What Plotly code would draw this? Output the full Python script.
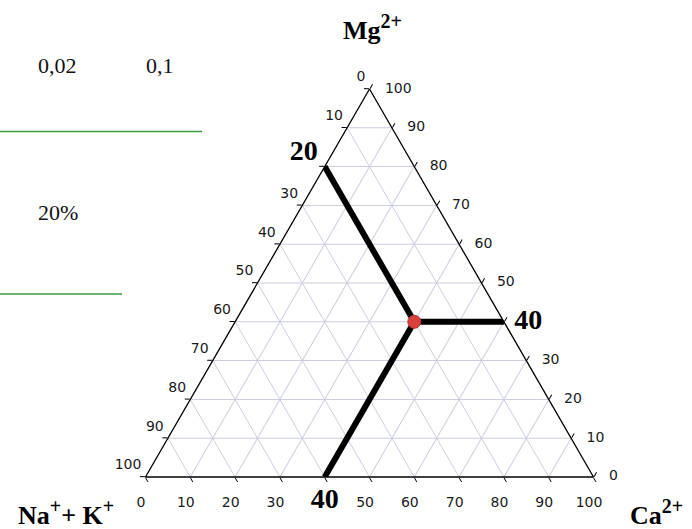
import plotly.graph_objects as go

# ---- data ----
tick_values = [0, 10, 20, 30, 40, 50, 60, 70, 80, 90, 100]

# sample composition (percent)
sample_mg = [40]
sample_na_k = [20]
sample_ca = [40]

# guide-line end points on the triangle edges
guide_mg = [80, 40, 0]
guide_na_k = [20, 0, 60]
guide_ca = [0, 60, 40]
guide_labels = ["20", "40", "40"]

# clipped table text from the scanned page
table_texts = ["0,02", "0,1", "20%"]

W, H = 692, 529
NBSP = "\u00a0"


def px(x, y):
    return x / W, 1 - y / H


fig = go.Figure()

tick_font = dict(family="DejaVu Sans", size=14, color="#1a1a1a")

# left edge labels: Na+ + K+ (top vertex = 0, bottom-left = 100)
left_v = [v for v in tick_values if v != sample_na_k[0]]
fig.add_trace(go.Scatterternary(
    a=[100 - v for v in left_v], b=left_v, c=[0] * len(left_v),
    mode="markers+text", text=[str(v) for v in left_v],
    textposition="top left", marker=dict(size=5, opacity=0),
    textfont=tick_font, cliponaxis=False, hoverinfo="skip", showlegend=False))

# bottom edge labels: Ca2+ (bottom-left = 0, bottom-right = 100)
bottom_v = [v for v in tick_values if v != sample_ca[0]]
fig.add_trace(go.Scatterternary(
    a=[0] * len(bottom_v), b=[100 - v for v in bottom_v], c=bottom_v,
    mode="markers+text", text=[str(v) + NBSP * 2 for v in bottom_v],
    textposition="bottom center", marker=dict(size=29, opacity=0),
    textfont=tick_font, cliponaxis=False, hoverinfo="skip", showlegend=False))

# right edge labels: Mg2+ (bottom-right = 0, top = 100)
right_v = [v for v in tick_values if v != sample_mg[0]]
fig.add_trace(go.Scatterternary(
    a=right_v, b=[0] * len(right_v), c=[100 - v for v in right_v],
    mode="markers+text", text=[str(v) for v in right_v],
    textposition="middle right", marker=dict(size=23, opacity=0),
    textfont=tick_font, cliponaxis=False, hoverinfo="skip", showlegend=False))

# guide lines from the sample point to the edges
for m, n, c in zip(guide_mg, guide_na_k, guide_ca):
    fig.add_trace(go.Scatterternary(
        a=[sample_mg[0], m], b=[sample_na_k[0], n], c=[sample_ca[0], c],
        mode="lines", line=dict(color="black", width=6),
        cliponaxis=False, hoverinfo="skip", showlegend=False))

# bold labels at the guide-line ends
fig.add_trace(go.Scatterternary(
    a=guide_mg, b=guide_na_k, c=guide_ca,
    mode="markers+text",
    text=["<b>" + guide_labels[0] + "</b>" + NBSP,
          "<b>" + guide_labels[1] + "</b>",
          "<b>" + guide_labels[2] + "</b>"],
    textposition=["top left", "middle right", "bottom center"],
    marker=dict(size=[0, 15, 15], opacity=0),
    textfont=dict(family="Liberation Serif", size=28, color="black"),
    cliponaxis=False, hoverinfo="skip", showlegend=False))

# sample point
fig.add_trace(go.Scatterternary(
    a=sample_mg, b=sample_na_k, c=sample_ca, mode="markers",
    marker=dict(size=13, color="#d8403c", line=dict(color="#b83030", width=1)),
    cliponaxis=False, showlegend=False))


def axis():
    return dict(
        tickmode="array",
        tickvals=tick_values,
        showticklabels=False,
        ticks="outside", ticklen=5, tickcolor="black", tickwidth=1,
        showline=True, linecolor="black", linewidth=1.3,
        showgrid=True, gridcolor="#cacee0", gridwidth=1,
        title=dict(text=""),
    )


x0, ytop = px(145.5, 89)
x1, ybot = px(593.5, 477)
fig.update_layout(
    width=W, height=H,
    margin=dict(l=0, r=0, t=0, b=0),
    paper_bgcolor="white",
    showlegend=False,
    ternary=dict(
        sum=100,
        bgcolor="white",
        domain=dict(x=[x0, x1], y=[ybot, ytop]),
        aaxis=axis(),
        baxis=axis(),
        caxis=axis(),
    ),
)


def sup(s):
    return "<sup><span style='font-size:20px'>" + s + "</span></sup>"


serif_bold = dict(family="Liberation Serif", size=26, color="black")
titles = [
    ("<b>Mg" + sup("2+") + "</b>", 372, 28),
    ("<b>Na" + sup("+") + "+ K" + sup("+") + "</b>", 66, 512),
    ("<b>Ca" + sup("2+") + "</b>", 656, 512),
]
for t, x, y in titles:
    xx, yy = px(x, y)
    fig.add_annotation(text=t, x=xx, y=yy, xref="paper", yref="paper",
                       xanchor="center", yanchor="middle", showarrow=False,
                       font=serif_bold)

table_pos = [(57.5, 66), (160, 66), (58, 212)]
for t, (x, y) in zip(table_texts, table_pos):
    xx, yy = px(x, y)
    fig.add_annotation(text=t, x=xx, y=yy, xref="paper", yref="paper",
                       xanchor="center", yanchor="middle", showarrow=False,
                       font=dict(family="Liberation Serif", size=22, color="#111"))

for (xa, xb, y) in [(0, 202, 131.5), (0, 122, 294)]:
    ax, ay = px(xa, y)
    bx, by = px(xb, y)
    fig.add_shape(type="line", x0=ax, y0=ay, x1=bx, y1=by, xref="paper", yref="paper",
                  line=dict(color="#3d9a3d", width=1.5))

fig.write_html("out.html")
